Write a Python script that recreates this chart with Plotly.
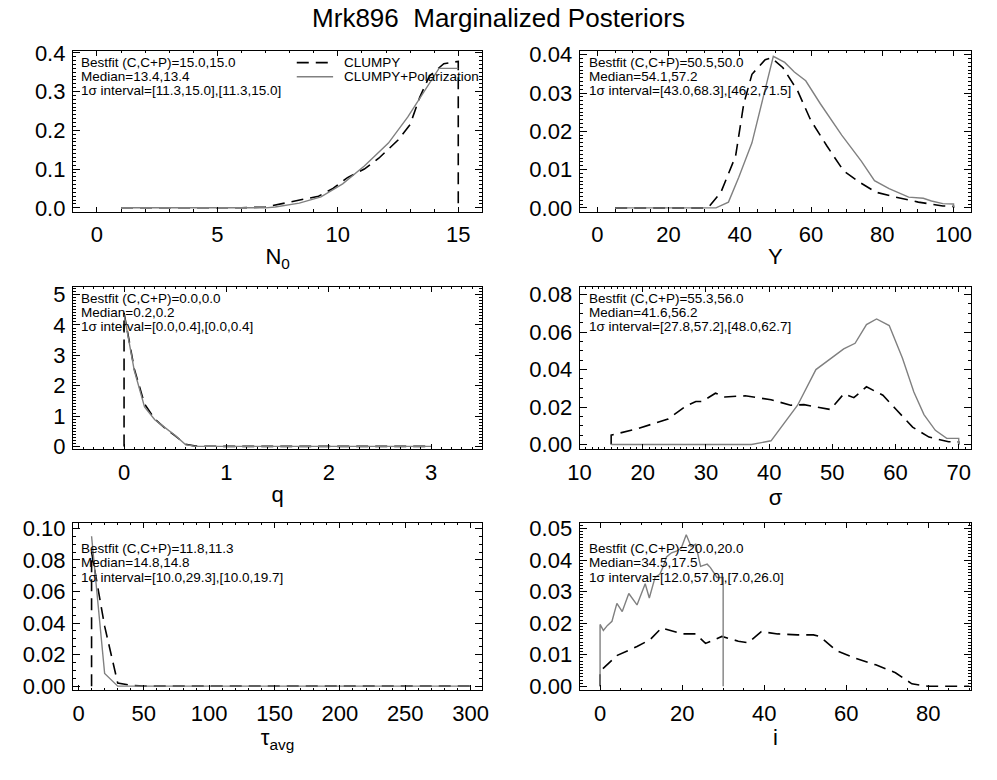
import plotly.graph_objects as go

# ---------------- posterior curves (CLUMPY = dashed, CLUMPY+Polarization = solid) ----------------
n0_x_c = [1, 2, 3, 4, 5, 6, 7, 8.2, 9.2, 9.8, 10.4, 11.1, 11.7, 12.5, 13.0, 13.4, 13.8, 14.4, 15, 15]
n0_p_c = [0, 0, 0, 0, 0, 0, 0.002, 0.018, 0.03, 0.05, 0.078, 0.1, 0.128, 0.175, 0.215, 0.285, 0.34, 0.372, 0.378, 0]
n0_x_p = [1, 2, 3, 4, 5, 6, 7, 7.4, 8.4, 9.3, 10.2, 11.1, 12.1, 12.9, 13.6, 14.2, 15]
n0_p_p = [0, 0, 0, 0, 0, 0, 0, 0.002, 0.012, 0.028, 0.062, 0.108, 0.167, 0.234, 0.3, 0.36, 0.36]

y_x_c = [5, 10, 15, 20, 25, 30, 31.5, 34.7, 38.8, 41.1, 43.4, 47.1, 48.9, 52.1, 56.2, 59.9, 64.5,
         69.1, 73.6, 78.2, 83.7, 90.1, 97, 100, 100]
y_p_c = [0, 0, 0, 0, 0, 0, 0.0005, 0.0041, 0.0135, 0.0272, 0.0349, 0.0387, 0.0392, 0.0366, 0.0306,
         0.0229, 0.0161, 0.0097, 0.0067, 0.0041, 0.0028, 0.0015, 0.0005, 0.0004, 0]
y_x_p = [5, 10, 15, 20, 25, 30, 33.3, 36.8, 39.7, 43.4, 49.4, 52.6, 55.3, 58.5, 62.6, 68.6, 74.1,
         77.8, 81.9, 87.4, 91.5, 93.8, 97, 100, 100]
y_p_p = [0, 0, 0, 0, 0, 0, 0, 0.0015, 0.008, 0.017, 0.0396, 0.038, 0.0355, 0.0332, 0.0272, 0.019,
         0.0122, 0.0071, 0.005, 0.0028, 0.0025, 0.0018, 0.0011, 0.001, 0]

q_x_c = [0, 0, 0.1, 0.2, 0.3, 0.4, 0.5, 0.6, 0.7, 0.8, 1.0, 1.5, 2.0, 2.5, 3.0]
q_p_c = [0, 4.4, 2.55, 1.4, 0.9, 0.6, 0.35, 0.07, 0.01, 0, 0, 0, 0, 0, 0]
q_x_p = [0, 0.05, 0.1, 0.2, 0.3, 0.4, 0.5, 0.6, 0.7, 0.8, 1.0, 1.5, 2.0, 2.5, 3.0]
q_p_p = [4.35, 3.4, 2.5, 1.3, 0.88, 0.62, 0.36, 0.06, 0.0, 0, 0, 0, 0, 0, 0]

s_x_c = [15, 15, 19.1, 24.0, 26.8, 28.4, 29.4, 31.5, 33.0, 36.2, 40.3, 43.4, 45.5, 48.1, 49.7, 51.8,
         53.4, 55.4, 58.0, 60.1, 62.7, 65.3, 68.4, 70, 70]
s_p_c = [0, 0.005, 0.0084, 0.0136, 0.0205, 0.023, 0.023, 0.0274, 0.0254, 0.026, 0.0239, 0.021, 0.0213,
         0.0199, 0.0187, 0.027, 0.025, 0.0308, 0.0263, 0.0187, 0.0093, 0.004, 0.0015, 0.0014, 0]
s_x_p = [15, 20, 25, 30, 35, 37.2, 40.3, 44.5, 47.4, 49.7, 51.8, 53.6, 55.4, 57.0, 59.0, 61.1, 62.9,
         64.5, 66.3, 68.1, 70, 70]
s_p_p = [0, 0, 0, 0, 0, 0, 0.002, 0.021, 0.040, 0.046, 0.051, 0.054, 0.064, 0.067, 0.0635, 0.046,
         0.028, 0.016, 0.0076, 0.0033, 0.0033, 0]

t_x_c = [10, 10, 20, 30, 40, 50, 100, 150, 200, 250, 300]
t_p_c = [0, 0.085, 0.038, 0.002, 0.0005, 0, 0, 0, 0, 0, 0]
t_x_p = [10, 20, 30, 40, 50, 100, 150, 200, 250, 300]
t_p_p = [0.095, 0.008, 0, 0, 0, 0, 0, 0, 0, 0]

i_x_c = [0, 0, 4.2, 9.0, 12.2, 15.0, 20.2, 23.3, 25.7, 29.7, 33.7, 36.1, 39.3, 43.3, 48.1, 52.0,
         53.6, 57.6, 62.4, 67.2, 72.0, 76.0, 80.0, 85, 90]
i_p_c = [0, 0.0048, 0.0098, 0.0126, 0.0148, 0.0185, 0.0166, 0.0166, 0.0136, 0.0158, 0.0143, 0.0138,
         0.0173, 0.0166, 0.0163, 0.0163, 0.0158, 0.0113, 0.0088, 0.0068, 0.0043, 0.0008, 0, 0, 0]
i_x_p = [0, 0, 0.8, 1.8, 2.9, 4.1, 5.4, 7.0, 9.0, 11.0, 12.0, 13.4, 14.6, 15.4, 16.2, 17.4, 18.6,
         19.8, 21.0, 22.2, 23.3, 24.5, 26.1, 26.9, 28.5, 30, 30]
i_p_p = [0, 0.0196, 0.0177, 0.0193, 0.0206, 0.0263, 0.0237, 0.0294, 0.0258, 0.0325, 0.028, 0.0345,
         0.0356, 0.038, 0.041, 0.0423, 0.0428, 0.0438, 0.048, 0.0443, 0.045, 0.038, 0.0387, 0.0376,
         0.0345, 0.0345, 0]

# ---------------- summary statistics printed in each panel ----------------
bestfit = ["15.0,15.0", "50.5,50.0", "0.0,0.0", "55.3,56.0", "11.8,11.3", "20.0,20.0"]
median = ["13.4,13.4", "54.1,57.2", "0.2,0.2", "41.6,56.2", "14.8,14.8", "34.5,17.5"]
interval = ["[11.3,15.0],[11.3,15.0]", "[43.0,68.3],[46.2,71.5]", "[0.0,0.4],[0.0,0.4]",
            "[27.8,57.2],[48.0,62.7]", "[10.0,29.3],[10.0,19.7]", "[12.0,57.0],[7.0,26.0]"]

x_titles = ["N<sub>0</sub>", "Y", "q", "σ", "τ<sub>avg</sub>", "i"]
series_names = ["CLUMPY", "CLUMPY+Polarization"]

curves = [
    (n0_x_c, n0_p_c, n0_x_p, n0_p_p),
    (y_x_c, y_p_c, y_x_p, y_p_p),
    (q_x_c, q_p_c, q_x_p, q_p_p),
    (s_x_c, s_p_c, s_x_p, s_p_p),
    (t_x_c, t_p_c, t_x_p, t_p_p),
    (i_x_c, i_p_c, i_x_p, i_p_p),
]

# ---------------- layout geometry (pixels) ----------------
W, H = 997, 780
cols = [(62, 479), (578, 977)]
rows = [(42, 207), (284, 451), (526, 698)]

# axis settings per panel
axes_cfg = [
    dict(xr=[-1, 16], xd=5, xm=1, yr=[-0.01, 0.405], yd=0.1, ym=0.01, yf=".1f"),
    dict(xr=[-5, 105], xd=20, xm=5, yr=[-0.001, 0.041], yd=0.01, ym=0.001, yf=".2f"),
    dict(xr=[-0.5, 3.5], xd=1, xm=0.1, yr=[-0.1, 5.26], yd=1, ym=0.1, yf="d"),
    dict(xr=[10, 72], xd=10, xm=1, yr=[-0.0026, 0.0842], yd=0.02, ym=0.005, yf=".2f"),
    dict(xr=[-4.3, 309], xd=50, xm=10, yr=[-0.0025, 0.1037], yd=0.02, ym=0.005, yf=".2f"),
    dict(xr=[-5, 90.5], xd=20, xm=5, yr=[-0.0012, 0.0519], yd=0.01, ym=0.001, yf=".2f"),
]

FONT = "Liberation Sans, Arial, Helvetica, sans-serif"
GREY = "#808080"
DASH = dict(color="black", width=1.6, dash="12px,7px")
SOLID = dict(color=GREY, width=1.4)
NOTE_SIZE = 13.5


def fx(px):
    return px / W


def fy(py):
    return 1 - py / H


fig = go.Figure()
layout = {}
annotations = []

for k in range(6):
    r, c = divmod(k, 2)
    n = k + 1
    xa, ya = f"x{n}" if n > 1 else "x", f"y{n}" if n > 1 else "y"
    xc, pc, xp, pp = curves[k]
    fig.add_trace(go.Scatter(x=xc, y=pc, mode="lines", xaxis=xa, yaxis=ya, name=series_names[0],
                             showlegend=False, line=DASH))
    fig.add_trace(go.Scatter(x=xp, y=pp, mode="lines", xaxis=xa, yaxis=ya, name=series_names[1],
                             showlegend=False, line=SOLID))

    cfg = axes_cfg[k]
    x0, x1 = cols[c]
    y0, y1 = rows[r]
    common = dict(showline=True, linecolor="black", linewidth=1, mirror="allticks",
                  ticks="inside", tickcolor="black", tickwidth=1, showgrid=False, zeroline=False,
                  tickfont=dict(family=FONT, size=22, color="black"))
    layout[f"xaxis{n if n > 1 else ''}"] = dict(
        common, domain=[fx(x0), fx(x1)], anchor=ya, range=cfg["xr"], tick0=0, dtick=cfg["xd"],
        ticklen=5, ticklabelstandoff=3,
        minor=dict(ticks="inside", ticklen=2.5, dtick=cfg["xm"], tick0=0, tickcolor="black"),
        title=dict(text=x_titles[k], font=dict(family=FONT, size=22, color="black"), standoff=2))
    layout[f"yaxis{n if n > 1 else ''}"] = dict(
        common, domain=[fy(y1), fy(y0)], anchor=xa, range=cfg["yr"], tick0=0, dtick=cfg["yd"],
        ticklen=7, tickformat=cfg["yf"], ticklabelstandoff=2,
        minor=dict(ticks="inside", ticklen=3.5, dtick=cfg["ym"], tick0=0, tickcolor="black"))

    # statistics text block
    tx = x0 + 6 if c == 0 else x0 + 8
    top = y0 + 12 if r < 2 else y0 + 27
    lines = [f"Bestfit (C,C+P)={bestfit[k]}", f"Median={median[k]}", f"1σ interval={interval[k]}"]
    for j, txt in enumerate(lines):
        annotations.append(dict(text=txt, xref="paper", yref="paper", x=fx(tx), y=fy(top + 14.5 * j),
                                xanchor="left", yanchor="middle", showarrow=False,
                                font=dict(family=FONT, size=NOTE_SIZE, color="black")))

# key for the two curve styles, in the first panel
key_shapes = [
    dict(type="line", xref="paper", yref="paper", x0=fx(290), x1=fx(327), y0=fy(54), y1=fy(54),
         line=DASH),
    dict(type="line", xref="paper", yref="paper", x0=fx(290), x1=fx(327), y0=fy(68.5), y1=fy(68.5),
         line=SOLID),
]
for name, yy in zip(series_names, [54, 68.5]):
    annotations.append(dict(text=name, xref="paper", yref="paper", x=fx(336), y=fy(yy),
                            xanchor="left", yanchor="middle", showarrow=False,
                            font=dict(family=FONT, size=NOTE_SIZE, color="black")))

fig.update_layout(
    width=W, height=H,
    margin=dict(l=0, r=0, t=0, b=0),
    paper_bgcolor="white", plot_bgcolor="white",
    showlegend=False,
    title=dict(text="Mrk896\u00a0 Marginalized Posteriors", x=0.5, xanchor="center",
               y=fy(18), yanchor="middle", font=dict(family=FONT, size=26, color="black")),
    annotations=annotations,
    shapes=key_shapes,
    **layout,
)

fig.write_html("out.html")
